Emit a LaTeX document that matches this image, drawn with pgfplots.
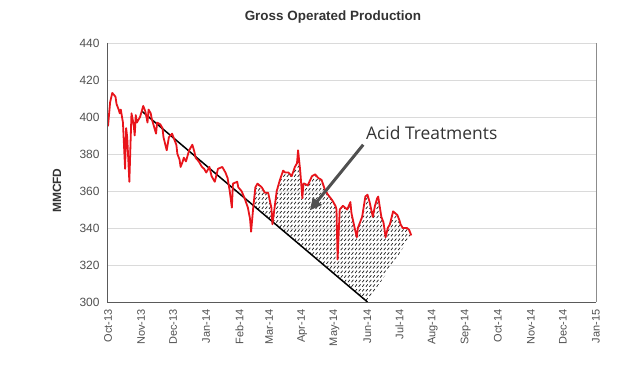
\documentclass[border=0pt]{standalone}
\usepackage{fontspec}
\setmainfont{Liberation Sans}
\newfontfamily\annotfont{Open Sans}
\usepackage{pgfplots}
\pgfplotsset{compat=1.18}
\usetikzlibrary{patterns,arrows.meta}
\definecolor{linered}{HTML}{E8141B}
\definecolor{gridgray}{HTML}{DADADA}
\definecolor{axisgray}{HTML}{5A5A5A}
\definecolor{ticktext}{HTML}{505050}
\definecolor{arrowgray}{HTML}{505050}
\pgfdeclarepatternformonly{dashslash}{\pgfqpoint{-1pt}{-1pt}}{\pgfqpoint{5pt}{5pt}}{\pgfqpoint{3.6pt}{4.6pt}}{%
  \pgfsetlinewidth{0.7pt}%
  \pgfpathmoveto{\pgfqpoint{0pt}{0.3pt}}%
  \pgfpathlineto{\pgfqpoint{1.9pt}{2.7pt}}%
  \pgfusepath{stroke}}
\begin{document}
\begin{tikzpicture}
\path[use as bounding box] (-108bp,-63bp) rectangle (532bp,302bp);
\begin{axis}[
  at={(0,0)}, anchor=south west,
  scale only axis, width=488bp, height=259bp,
  xmin=0, xmax=457, ymin=300, ymax=440,
  clip mode=individual,
  xtick={0,31,61,92,123,151,182,212,243,273,304,335,365,396,426,457},
  xticklabels={Oct-13,Nov-13,Dec-13,Jan-14,Feb-14,Mar-14,Apr-14,May-14,Jun-14,Jul-14,Aug-14,Sep-14,Oct-14,Nov-14,Dec-14,Jan-15},
  ytick={300,320,340,360,380,400,420,440},
  /pgf/number format/assume math mode=true,
  xticklabel style={rotate=90, anchor=east, font=\fontsize{11}{12}\selectfont, text=ticktext},
  xticklabel shift=4bp,
  yticklabel style={font=\fontsize{12}{13}\selectfont, text=ticktext},
  yticklabel shift=5bp,
  major tick length=0pt,
  xtick style={draw=none}, ytick style={draw=none},
  ymajorgrids, grid style={gridgray, line width=0.8pt},
  axis line style={draw=none},
  ylabel={\bfseries MMCFD},
  ylabel style={at={(axis description cs:-0.1045,0.43)}, anchor=center, font=\fontsize{12}{13}\selectfont, text=black!80},
  title={\bfseries Gross Operated Production},
  title style={at={(axis description cs:0.461,1.077)}, anchor=center, font=\fontsize{13.5}{15}\selectfont, text=black!80},
]
% hatched area between trend line and production
\addplot[draw=none, pattern=dashslash, pattern color=black!90] coordinates {
(136,352) (136,351) (138,362) (140,364) (144,362) (147,359) (150,359) (153,351) (154,342) (156,351)
(158,360) (161,366) (164,371) (166,370) (169,370) (172,368) (175,373) (177,375) (178,382)
(180,371) (182,356) (183,364) (184,364) (187,363) (191,368) (194,369) (197,367) (200,366)
(203,361) (206,358) (210,355) (213,352) (214,350) (215,323) (217,350) (220,352) (224,350)
(227,354) (228,348) (231,340) (233,335) (234,340) (238,346) (241,357) (243,358) (245,354)
(248,346) (250,352) (252,356) (253,357) (256,346) (258,343) (260,335) (262,340) (264,342)
(267,349) (271,347) (273,344) (274,342) (276,340) (280,340) (282,339) (284,336)
(243,300) (136,352)
};
% trend line
\addplot[black, line width=1.5bp] coordinates {(32,403) (243,300)};
% production
\addplot[linered, line width=1.8bp, line join=round] coordinates {
(0,395) (2,408) (4,413) (7,411) (8,407) (10,404) (11,402) (12,404) (14,397) (16,372)
(17,394) (18,389) (20,365) (21,384) (22,402) (24,396) (25,390) (26,401) (27,397) (30,400)
(33,406) (35,403) (37,397) (38,404) (40,402) (41,399) (43,395) (45,391) (46,397) (49,396)
(51,394) (52,389) (55,382) (57,389) (60,391) (62,388) (64,385) (65,380) (67,377) (68,373)
(70,376) (71,378) (73,376) (76,382) (79,385) (81,381) (82,378) (85,376) (88,373) (90,372)
(92,370) (95,373) (97,368) (100,365) (103,372) (107,373) (110,370) (112,367) (114,360)
(116,351) (117,364) (121,365) (122,362) (125,360) (128,356) (131,351) (133,345) (134,338)
(136,351) (138,362) (140,364) (144,362) (147,359) (150,359) (153,351) (154,342) (156,351)
(158,360) (161,366) (164,371) (166,370) (169,370) (172,368) (175,373) (177,375) (178,382)
(180,371) (182,356) (183,364) (184,364) (187,363) (191,368) (194,369) (197,367) (200,366)
(203,361) (206,358) (210,355) (213,352) (214,350) (215,323) (217,350) (220,352) (224,350)
(227,354) (228,348) (231,340) (233,335) (234,340) (238,346) (241,357) (243,358) (245,354)
(248,346) (250,352) (252,356) (253,357) (256,346) (258,343) (260,335) (262,340) (264,342)
(267,349) (271,347) (273,344) (274,342) (276,340) (280,340) (282,339) (284,336)
};
% frame
\draw[axisgray, line width=1bp] (rel axis cs:0,1) -- (rel axis cs:0,0) -- (rel axis cs:1,0);
\draw[black!45, line width=0.8bp] (rel axis cs:1,0) -- (rel axis cs:1,1);
% annotation
\draw[arrowgray, line width=3bp, -{Triangle[length=12bp,width=11bp]}] (axis cs:239,385) -- (axis cs:189,349.5);
\node[anchor=west, inner sep=0pt, font=\annotfont\fontsize{17.5}{19}\selectfont, text=black!80] at (axis cs:241.5,391.4) {Acid Treatments};
\end{axis}
\end{tikzpicture}
\end{document}
